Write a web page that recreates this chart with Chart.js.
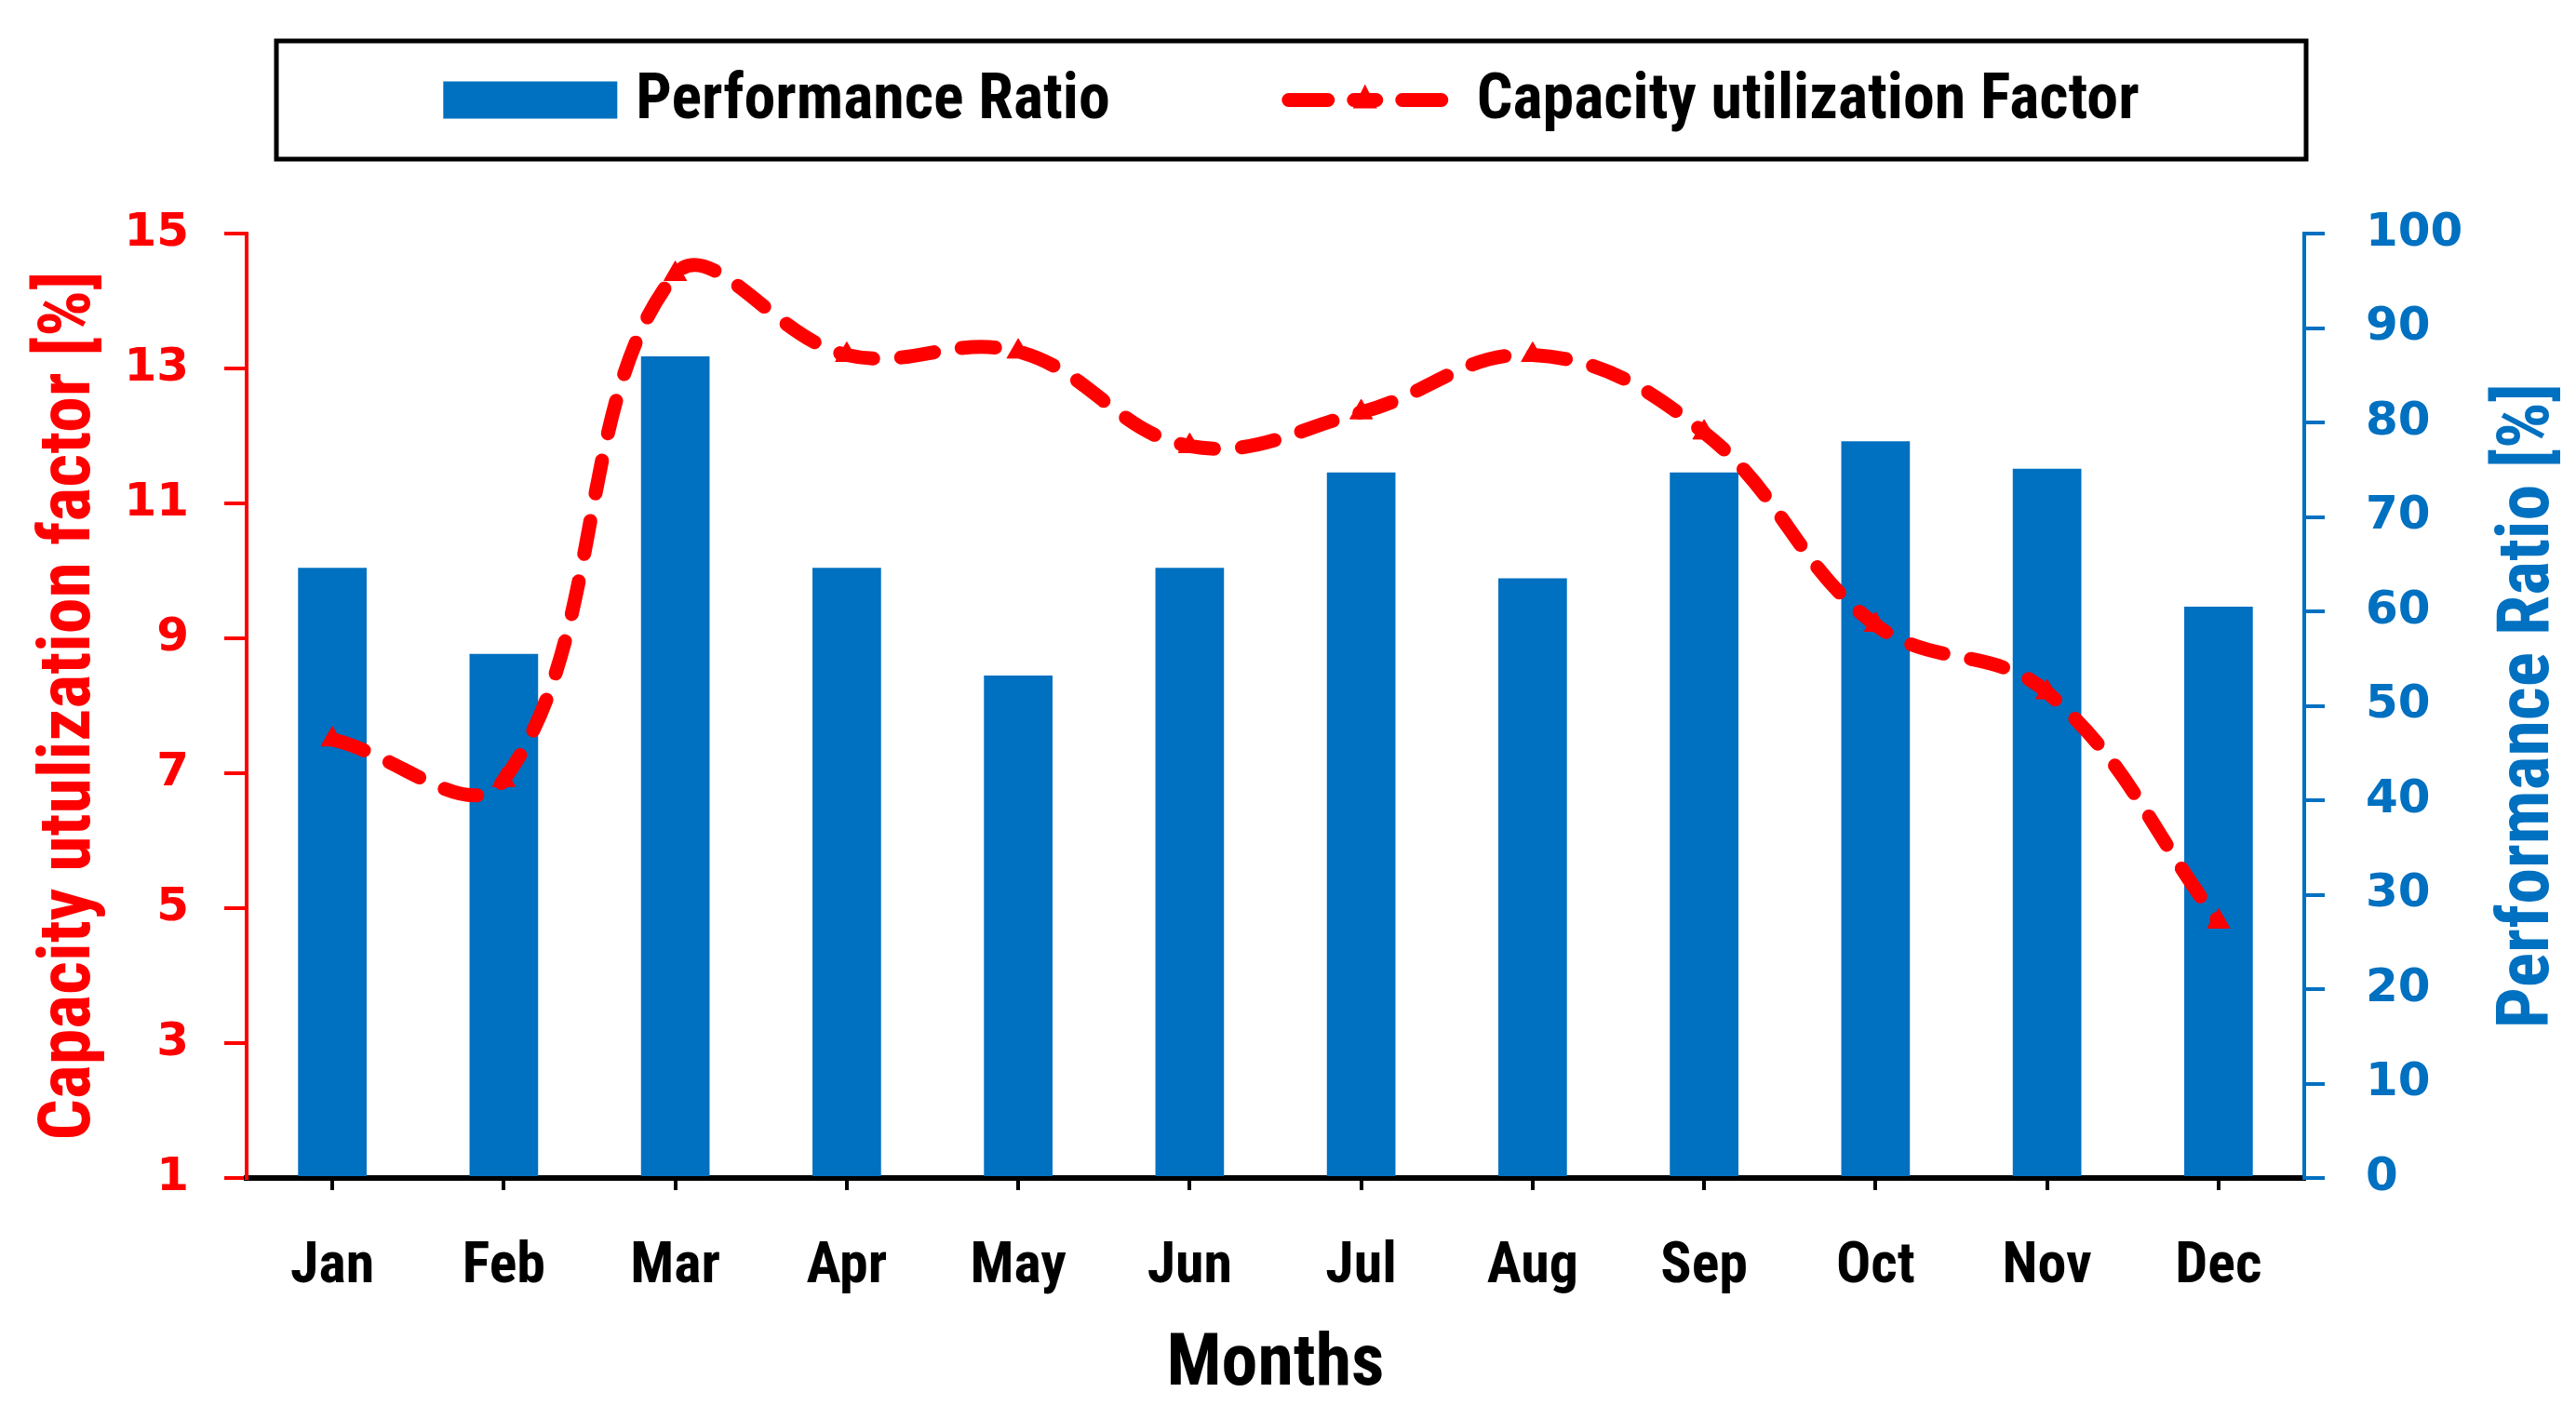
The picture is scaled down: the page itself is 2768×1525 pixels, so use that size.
<!DOCTYPE html>
<html>
<head>
<meta charset="utf-8">
<script src="https://cdn.jsdelivr.net/npm/chart.js@4.4.0/dist/chart.umd.min.js"></script>
<style>
html,body{margin:0;padding:0;background:#ffffff;}
#wrap{width:2768px;height:1525px;}
</style>
</head>
<body>
<div id="wrap"><canvas id="c" width="2768" height="1525"></canvas></div>
<script>
// ---- data ----
const months = ['Jan','Feb','Mar','Apr','May','Jun','Jul','Aug','Sep','Oct','Nov','Dec'];
const performanceRatio = [64.6, 55.5, 87.0, 64.6, 53.2, 64.6, 74.7, 63.5, 74.7, 78.0, 75.1, 60.5];
const capacityFactor = [7.5, 6.9, 14.4, 13.2, 13.25, 11.85, 12.35, 13.2, 12.05, 9.2, 8.2, 4.8];
const cufTicks = [1, 3, 5, 7, 9, 11, 13, 15];
const prTicks = [0, 10, 20, 30, 40, 50, 60, 70, 80, 90, 100];
const seriesNames = ['Performance Ratio', 'Capacity utilization Factor'];
const axisTitles = { x: 'Months', left: 'Capacity utulization factor [%]', right: 'Performance Ratio [%]' };

// ---- styles ----
const RED = '#FF0000';
const BLUE = '#0070C0';
const NARROW = '"Liberation Sans Narrow", "Roboto Condensed", Roboto, sans-serif';
const WIDE = '"DejaVu Sans", Verdana, sans-serif';
const W = 2768, H = 1525;
const PLOT = { left: 265, right: 2476, top: 251, bottom: 1266 };

const decorPlugin = {
  id: 'decor',
  afterDraw(chart) {
    const ctx = chart.ctx;
    const ca = chart.chartArea;
    // right axis title (reads bottom-to-top)
    const yR = chart.scales.yR;
    ctx.save();
    ctx.fillStyle = BLUE;
    ctx.font = 'bold 78px ' + NARROW;
    ctx.textAlign = 'center';
    ctx.textBaseline = 'middle';
    ctx.translate(yR.right - 50, (ca.top + ca.bottom) / 2);
    ctx.rotate(-Math.PI / 2);
    ctx.fillText(axisTitles.right, 0, 0);
    ctx.restore();

    // legend box
    const bx1 = ca.left + 32, bx2 = ca.right + 2;
    const by1 = ca.top - 207, by2 = ca.top - 80;
    ctx.save();
    ctx.strokeStyle = '#000000';
    ctx.lineWidth = 5;
    ctx.strokeRect(bx1, by1, bx2 - bx1, by2 - by1);
    const cy = (by1 + by2) / 2;
    ctx.font = 'bold 68px ' + NARROW;
    ctx.textBaseline = 'middle';
    ctx.textAlign = 'left';
    const t1 = ctx.measureText(seriesNames[0]).width;
    const t2 = ctx.measureText(seriesNames[1]).width;
    const sw1 = 187, g1 = 20, gap = 184, sw2 = 180, g2 = 30;
    const total = sw1 + g1 + t1 + gap + sw2 + g2 + t2;
    let x = (bx1 + bx2) / 2 - total / 2;
    // bar swatch
    ctx.fillStyle = BLUE;
    ctx.fillRect(x, cy - 20, sw1, 40);
    x += sw1 + g1;
    ctx.fillStyle = '#000000';
    ctx.fillText(seriesNames[0], x, cy + 2);
    x += t1 + gap;
    // line swatch
    ctx.strokeStyle = RED;
    ctx.lineWidth = 15;
    ctx.lineCap = 'round';
    ctx.beginPath();
    ctx.moveTo(x + 8, cy); ctx.lineTo(x + 50, cy);
    ctx.moveTo(x + 130, cy); ctx.lineTo(x + 172, cy);
    ctx.moveTo(x + 78, cy); ctx.lineTo(x + 102, cy);
    ctx.stroke();
    ctx.fillStyle = RED;
    ctx.beginPath();
    ctx.moveTo(x + 90, cy - 17); ctx.lineTo(x + 103, cy + 9); ctx.lineTo(x + 77, cy + 9);
    ctx.closePath(); ctx.fill();
    x += sw2 + g2;
    ctx.fillStyle = '#000000';
    ctx.fillText(seriesNames[1], x, cy + 2);
    ctx.restore();
  }
};

new Chart(document.getElementById('c'), {
  type: 'bar',
  data: {
    labels: months,
    datasets: [
      {
        type: 'line',
        label: seriesNames[1],
        data: capacityFactor,
        yAxisID: 'yL',
        order: 0,
        borderColor: RED,
        backgroundColor: RED,
        borderWidth: 15,
        borderDash: [36, 30],
        borderCapStyle: 'round',
        tension: 0.4,
        fill: false,
        pointStyle: 'triangle',
        pointRadius: 14,
        pointBackgroundColor: RED,
        pointBorderColor: RED,
        pointBorderWidth: 1
      },
      {
        type: 'bar',
        label: seriesNames[0],
        data: performanceRatio,
        yAxisID: 'yR',
        order: 1,
        backgroundColor: BLUE,
        borderWidth: 0,
        categoryPercentage: 1.0,
        barPercentage: 0.4
      }
    ]
  },
  options: {
    responsive: false,
    animation: false,
    devicePixelRatio: 1,
    layout: { padding: { top: PLOT.top, left: 0, right: 0, bottom: 0 } },
    plugins: { legend: { display: false }, tooltip: { enabled: false } },
    scales: {
      x: {
        offset: true,
        grid: { display: true, drawOnChartArea: false, offset: false, color: '#000000', lineWidth: 4, tickLength: 13 },
        border: { display: true, color: '#000000', width: 6 },
        ticks: { color: '#000000', font: { family: NARROW, size: 62, weight: 'bold' }, padding: 46, maxRotation: 0 },
        title: { display: true, text: axisTitles.x, color: '#000000', font: { family: NARROW, size: 78, weight: 'bold' }, padding: { top: 0, bottom: 10 } },
        afterFit(s) { s.height = H - PLOT.bottom; }
      },
      yL: {
        position: 'left',
        min: cufTicks[0],
        max: cufTicks[cufTicks.length - 1],
        ticks: { stepSize: cufTicks[1] - cufTicks[0], color: RED, font: { family: WIDE, size: 50, weight: 'bold' }, padding: 38 },
        grid: { display: true, drawOnChartArea: false, color: RED, lineWidth: 4, tickLength: 24 },
        border: { display: true, color: RED, width: 4 },
        title: { display: true, text: axisTitles.left, color: RED, font: { family: NARROW, size: 78, weight: 'bold' }, padding: { top: 30, bottom: 0 } },
        afterFit(s) { s.width = PLOT.left; }
      },
      yR: {
        position: 'right',
        min: prTicks[0],
        max: prTicks[prTicks.length - 1],
        ticks: { stepSize: prTicks[1] - prTicks[0], color: BLUE, font: { family: WIDE, size: 50, weight: 'bold' }, padding: 44 },
        grid: { display: true, drawOnChartArea: false, color: BLUE, lineWidth: 4, tickLength: 22 },
        border: { display: true, color: BLUE, width: 4 },
        title: { display: false },
        afterFit(s) { s.width = W - PLOT.right; }
      }
    }
  },
  plugins: [decorPlugin]
});
</script>
</body>
</html>
